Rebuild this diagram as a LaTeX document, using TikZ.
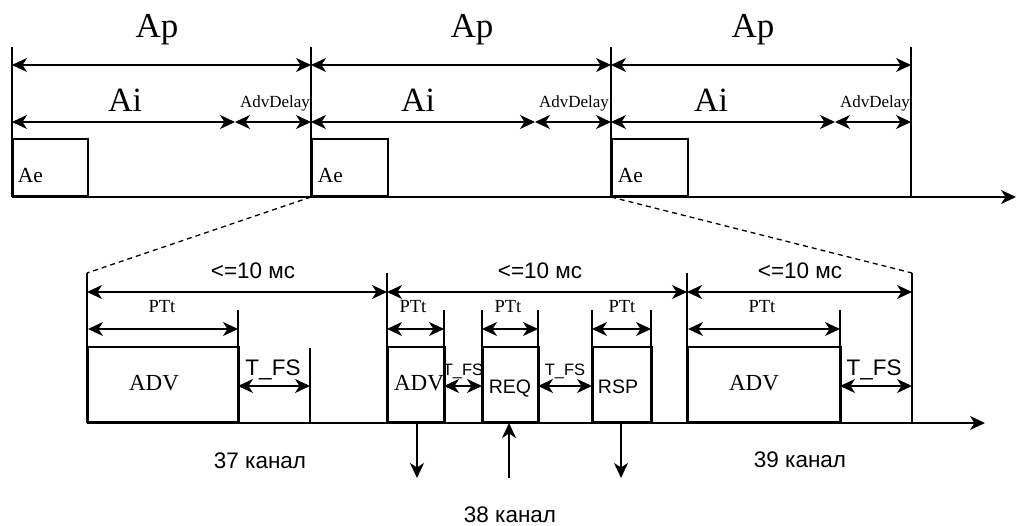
\documentclass[tikz,border=0pt]{standalone}
\usepackage{fontspec}
\setmainfont{Liberation Sans}
\newfontfamily\tnr{Liberation Serif}
\usetikzlibrary{arrows.meta}
\newcommand{\fs}[1]{\fontsize{#1}{#1}\selectfont}
\begin{document}
\begin{tikzpicture}[x=1pt,y=-1pt, line width=1.7pt,
  tip/.tip={Stealth[length=15pt,width=14pt,inset=4.5pt]},
  dim/.style={tip-tip},
  axisline/.style={-tip},
  pointer/.style={-tip},
  lbl/.style={anchor=base, inner sep=0pt},
  serifbig/.style={lbl, font=\tnr\fs{35}},
  serifai/.style={lbl, font=\tnr\fs{34}},
  serifdel/.style={lbl, font=\tnr\fs{17}},
  serifae/.style={lbl, anchor=base west, font=\tnr\fs{21.5}},
  seriftt/.style={lbl, font=\tnr\fs{18.5}},
  serifadv/.style={lbl, font=\tnr\fs{23}},
  sanslbl/.style={lbl, font=\fs{22.5}},
  sanssmall/.style={lbl, font=\fs{16.5}},
  sansbox/.style={lbl, font=\fs{19.5}},
  box/.style={draw, inner sep=0pt, anchor=south west},
  zoomline/.style={line width=1.3pt, dash pattern=on 5pt off 4pt}]
\useasboundingbox (0,0) rectangle (1017,526);

% ---------------- top timeline ----------------
\foreach \i/\x/\s in {0/12/235,1/311/535,2/611/835} {
  \coordinate (t\i) at (\x,47);
  \coordinate (b\i) at (\x,197);
  \coordinate (p\i) at (\x,65);
  \coordinate (i\i) at (\x,122);
  \coordinate (d\i) at (\s,122);
}
\coordinate (t3) at (911,47);
\coordinate (b3) at (911,197);
\coordinate (p3) at (911,65);
\coordinate (i3) at (911,122);
\coordinate (axe) at (1016,197);

\foreach \i in {0,1,2,3} { \draw (t\i) -- (b\i); }
\draw[axisline] (b0) -- (axe);

\draw[dim] (p0) -- (p1);
\draw[dim] (p1) -- (p2);
\draw[dim] (p2) -- (p3);
\draw[dim] (i0) -- (d0);
\draw[dim] (d0) -- (i1);
\draw[dim] (i1) -- (d1);
\draw[dim] (d1) -- (i2);
\draw[dim] (i2) -- (d2);
\draw[dim] (d2) -- (i3);

\node[serifbig] (ap1) at (157,38) {Ap};
\node[serifbig] (ap2) at (472,38) {Ap};
\node[serifbig] (ap3) at (753,38) {Ap};
\node[serifai] (ai1) at (125,112) {Ai};
\node[serifai] (ai2) at (418,112) {Ai};
\node[serifai] (ai3) at (711,112) {Ai};
\node[serifdel] (ad1) at (275,108) {AdvDelay};
\node[serifdel] (ad2) at (574,108) {AdvDelay};
\node[serifdel] (ad3) at (875,108) {AdvDelay};

\node[box, minimum width=75pt, minimum height=57pt] (ae1) at (12,197) {};
\node[box, minimum width=76pt, minimum height=57pt] (ae2) at (311,197) {};
\node[box, minimum width=76pt, minimum height=57pt] (ae3) at (611,197) {};
\node[serifae] (ael1) at (17,183) {Ae};
\node[serifae] (ael2) at (317,183) {Ae};
\node[serifae] (ael3) at (617,183) {Ae};

% ---------------- zoom lines ----------------
\coordinate (q0) at (87,273);
\coordinate (q1) at (387,273);
\coordinate (q2) at (687,273);
\coordinate (q3) at (912,273);
\draw[zoomline] (b1) -- (q0);
\draw[zoomline] (b2) -- (q3);

% ---------------- bottom timeline ----------------
\coordinate (g0) at (87,423);
\coordinate (g1) at (387,423);
\coordinate (g2) at (687,423);
\coordinate (g3) at (912,423);
\coordinate (gend) at (985,423);
\foreach \i in {0,1,2,3} { \draw (q\i) -- (g\i); }
\draw[axisline] (g0) -- (gend);

\coordinate (m0) at (87,292);
\coordinate (m1) at (387,292);
\coordinate (m2) at (687,292);
\coordinate (m3) at (912,292);
\draw[dim] (m0) -- (m1);
\draw[dim] (m1) -- (m2);
\draw[dim] (m2) -- (m3);
\node[sanslbl] (ms1) at (253,279) {<=10 мс};
\node[sanslbl] (ms2) at (540,279) {<=10 мс};
\node[sanslbl] (ms3) at (800,279) {<=10 мс};

% boxes
\node[box, minimum width=151pt, minimum height=75pt] (adv1) at (87,423) {};
\node[box, minimum width=57pt, minimum height=75pt] (adv2) at (387,423) {};
\node[box, minimum width=56pt, minimum height=75pt] (req) at (482,423) {};
\node[box, minimum width=59pt, minimum height=75pt] (rsp) at (592,423) {};
\node[box, minimum width=153pt, minimum height=75pt] (adv3) at (687,423) {};

% extended edges
\foreach \n/\x in {e1/238,e2/444,e3/482,e4/538,e5/592,e6/651,e7/840} {
  \coordinate (\n t) at (\x,310);
  \coordinate (\n b) at (\x,423);
  \draw (\n t) -- (\n b);
}
\coordinate (f1t) at (310,348);
\coordinate (f1b) at (310,423);
\draw (f1t) -- (f1b);

% PTt arrows
\coordinate (pa) at (88,329);
\coordinate (pb) at (238,329);
\coordinate (pc) at (387,329);
\coordinate (pd) at (444,329);
\coordinate (pe) at (482,329);
\coordinate (pf) at (538,329);
\coordinate (pg) at (592,329);
\coordinate (ph) at (651,329);
\coordinate (pi) at (688,329);
\coordinate (pj) at (840,329);
\draw[dim] (pa) -- (pb);
\draw[dim] (pc) -- (pd);
\draw[dim] (pe) -- (pf);
\draw[dim] (pg) -- (ph);
\draw[dim] (pi) -- (pj);
\node[seriftt] (pt1) at (162,313) {PTt};
\node[seriftt] (pt2) at (413,313) {PTt};
\node[seriftt] (pt3) at (508,313) {PTt};
\node[seriftt] (pt4) at (622,313) {PTt};
\node[seriftt] (pt5) at (762,313) {PTt};

% T_FS arrows
\coordinate (fa) at (238,386);
\coordinate (fb) at (310,386);
\coordinate (fc) at (444,386);
\coordinate (fd) at (482,386);
\coordinate (fe) at (538,386);
\coordinate (ff) at (592,386);
\coordinate (fg) at (840,386);
\coordinate (fh) at (912,386);
\draw[dim] (fa) -- (fb);
\draw[dim] (fc) -- (fd);
\draw[dim] (fe) -- (ff);
\draw[dim] (fg) -- (fh);
\node[sanslbl] (tf1) at (273,375) {T\_FS};
\node[sanssmall] (tf2) at (463,375) {T\_FS};
\node[sanssmall] (tf3) at (565,375) {T\_FS};
\node[sanslbl] (tf4) at (874,375) {T\_FS};

% box labels
\node[serifadv] (advl1) at (154,390) {ADV};
\node[serifadv] (advl2) at (419,390) {ADV};
\node[sansbox] (reql) at (510,393) {REQ};
\node[sansbox] (rspl) at (618,393) {RSP};
\node[serifadv] (advl3) at (754,390) {ADV};

% direction arrows
\coordinate (da1) at (417,423);
\coordinate (da2) at (417,478);
\coordinate (ua1) at (509,478);
\coordinate (ua2) at (509,423);
\coordinate (db1) at (621,423);
\coordinate (db2) at (621,478);
\draw[pointer] (da1) -- (da2);
\draw[pointer] (ua1) -- (ua2);
\draw[pointer] (db1) -- (db2);

% channel labels
\node[sanslbl] (ch37) at (260,468) {37 канал};
\node[sanslbl] (ch38) at (510,522) {38 канал};
\node[sanslbl] (ch39) at (800,467) {39 канал};
\end{tikzpicture}
\end{document}
